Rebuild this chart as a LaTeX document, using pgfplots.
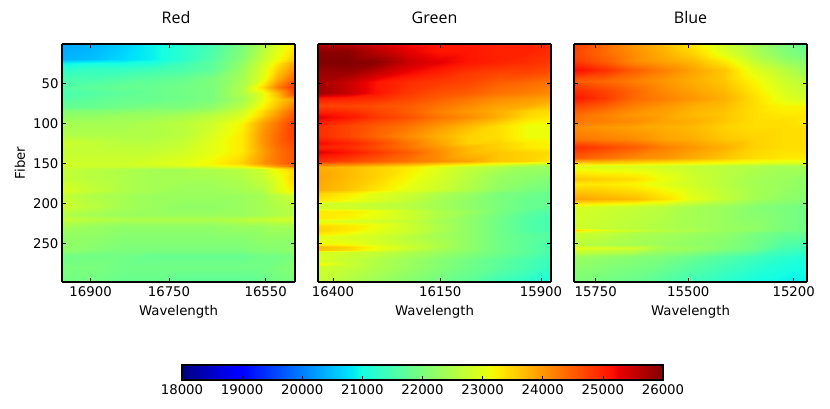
\documentclass[border=0pt]{standalone}
\usepackage{pgfplots}
\usepackage{fontspec}
\setmainfont{DejaVu Sans}
\newfontfamily\titlefont{Open Sans}
\pgfplotsset{compat=1.18}
% matplotlib jet
\pgfplotsset{colormap={mpljet}{
  rgb(0pt)=(0,0,.5); rgb(110pt)=(0,0,1); rgb(125pt)=(0,0,1); rgb(340pt)=(0,.86,1);
  rgb(350pt)=(0,.9,.968); rgb(375pt)=(.081,1,.887); rgb(640pt)=(.935,1,.032);
  rgb(650pt)=(.968,.963,0); rgb(660pt)=(1,.926,0); rgb(890pt)=(1,.074,0);
  rgb(910pt)=(.909,0,0); rgb(1000pt)=(.5,0,0)}}
\pgfplotsset{panel/.style={
  scale only axis, width=233pt, height=238pt,
  anchor=south west, view={0}{90},
  colormap name=mpljet, point meta min=18000, point meta max=26000,
  xmin=0, xmax=233, ymin=1, ymax=298, y dir=reverse,
  ytick={50,100,150,200,250}, ztick=\empty,
  tick align=inside, xtick pos=both, ytick pos=both,
  major tick length=4pt, tick style={black, line width=0.7pt},
  axis line style={black, line width=1.3pt},
  axis on top, grid=none,
  font=\fontsize{13.3}{15}\selectfont,
  tick label style={font=\fontsize{13.3}{15}\selectfont},
  /pgf/number format/assume math mode=true,
  /pgf/number format/1000 sep={},
  title style={at={(0.5,1)}, anchor=base, yshift=14.7pt, font=\titlefont\fontsize{16}{18}\selectfont},
  xlabel style={at={(0.5,0)}, anchor=base, yshift=-33pt},
  xticklabel style={yshift=-1pt},
  xlabel={Wavelength},
  every axis plot/.style={surf, shader=interp},
}}
\begin{document}
\begin{tikzpicture}
\path[use as bounding box] (0pt,0pt) rectangle (830pt,409pt);

\begin{axis}[panel, at={(62pt,127pt)}, title={Red}, ylabel={Fiber},
  title style={xshift=-2.5pt},
  ylabel style={at={(0,0.5)}, anchor=center, yshift=42pt},
  xtick={28.6,107,203.7}, xticklabels={16900,16750,16550}]
\addplot3[mesh/cols=10] coordinates {
(0,1,20300) (30,1,20400) (60,1,20600) (90,1,20900) (120,1,21200) (150,1,21500) (180,1,22000) (200,1,22500) (215,1,22900) (233,1,23300)

(0,20,20400) (30,20,20500) (60,20,20700) (90,20,20900) (120,20,21200) (150,20,21600) (180,20,22100) (200,20,22700) (215,20,23100) (233,20,23600)

(0,25,20900) (30,25,21000) (60,25,21000) (90,25,21100) (120,25,21400) (150,25,21700) (180,25,22200) (200,25,22800) (215,25,23300) (233,25,23900)

(0,32,21200) (30,32,21300) (60,32,21300) (90,32,21400) (120,32,21500) (150,32,21700) (180,32,22300) (200,32,22900) (215,32,23500) (233,32,24100)

(0,45,21500) (30,45,21500) (60,45,21600) (90,45,21700) (120,45,21800) (150,45,22000) (180,45,22400) (200,45,23000) (215,45,23800) (233,45,24500)

(0,55,21600) (30,55,21700) (60,55,21800) (90,55,21800) (120,55,21900) (150,55,22000) (180,55,22500) (200,55,23400) (215,55,24200) (233,55,24900)

(0,62,21500) (30,62,21600) (60,62,21700) (90,62,21800) (120,62,21900) (150,62,22000) (180,62,22500) (200,62,23000) (215,62,23700) (233,62,24700)

(0,70,21600) (30,70,21700) (60,70,21800) (90,70,21800) (120,70,21900) (150,70,22000) (180,70,22400) (200,70,23000) (215,70,23500) (233,70,24000)

(0,80,21800) (30,80,21800) (60,80,21900) (90,80,22000) (120,80,22000) (150,80,22200) (180,80,22600) (200,80,23200) (215,80,23700) (233,80,24300)

(0,84,22100) (30,84,22100) (60,84,22100) (90,84,22200) (120,84,22200) (150,84,22400) (180,84,22800) (200,84,23400) (215,84,23900) (233,84,24500)

(0,90,22200) (30,90,22200) (60,90,22300) (90,90,22300) (120,90,22400) (150,90,22600) (180,90,22900) (200,90,23500) (215,90,24000) (233,90,24600)

(0,100,22400) (30,100,22400) (60,100,22400) (90,100,22500) (120,100,22600) (150,100,22800) (180,100,23200) (200,100,23900) (215,100,24300) (233,100,24800)

(0,115,22500) (30,115,22500) (60,115,22500) (90,115,22500) (120,115,22600) (150,115,22900) (180,115,23300) (200,115,24000) (215,115,24400) (233,115,24800)

(0,125,22800) (30,125,22700) (60,125,22600) (90,125,22600) (120,125,22700) (150,125,23000) (180,125,23300) (200,125,24000) (215,125,24400) (233,125,24700)

(0,135,22700) (30,135,22700) (60,135,22700) (90,135,22700) (120,135,22800) (150,135,23000) (180,135,23300) (200,135,23900) (215,135,24300) (233,135,24600)

(0,150,22800) (30,150,22800) (60,150,22800) (90,150,22900) (120,150,23000) (150,150,23200) (180,150,23500) (200,150,24000) (215,150,24300) (233,150,24600)

(0,153,22800) (30,153,22800) (60,153,22800) (90,153,22800) (120,153,22900) (150,153,23000) (180,153,23200) (200,153,23600) (215,153,24000) (233,153,24300)

(0,157,22700) (30,157,22600) (60,157,22500) (90,157,22400) (120,157,22400) (150,157,22500) (180,157,22600) (200,157,22800) (215,157,23200) (233,157,23500)

(0,170,22700) (30,170,22600) (60,170,22500) (90,170,22400) (120,170,22400) (150,170,22400) (180,170,22500) (200,170,22700) (215,170,23000) (233,170,23500)

(0,185,22900) (30,185,22700) (60,185,22500) (90,185,22400) (120,185,22300) (150,185,22300) (180,185,22400) (200,185,22500) (215,185,22900) (233,185,23300)

(0,190,22700) (30,190,22500) (60,190,22400) (90,190,22300) (120,190,22300) (150,190,22300) (180,190,22300) (200,190,22400) (215,190,22600) (233,190,22800)

(0,205,22800) (30,205,22600) (60,205,22400) (90,205,22300) (120,205,22200) (150,205,22200) (180,205,22300) (200,205,22400) (215,205,22500) (233,205,22600)

(0,215,22500) (30,215,22400) (60,215,22300) (90,215,22300) (120,215,22300) (150,215,22300) (180,215,22300) (200,215,22400) (215,215,22500) (233,215,22600)

(0,220,22700) (30,220,22600) (60,220,22500) (90,220,22500) (120,220,22500) (150,220,22500) (180,220,22600) (200,220,22700) (215,220,22800) (233,220,22800)

(0,228,22400) (30,228,22300) (60,228,22200) (90,228,22200) (120,228,22200) (150,228,22200) (180,228,22300) (200,228,22300) (215,228,22400) (233,228,22400)

(0,243,22200) (30,243,22200) (60,243,22100) (90,243,22100) (120,243,22100) (150,243,22100) (180,243,22100) (200,243,22200) (215,243,22200) (233,243,22200)

(0,258,22200) (30,258,22100) (60,258,22000) (90,258,22000) (120,258,22000) (150,258,22000) (180,258,22000) (200,258,22100) (215,258,22100) (233,258,22200)

(0,265,21900) (30,265,21900) (60,265,21900) (90,265,21800) (120,265,21800) (150,265,21800) (180,265,21800) (200,265,21900) (215,265,21900) (233,265,22000)

(0,280,22000) (30,280,22000) (60,280,21900) (90,280,21900) (120,280,21900) (150,280,21900) (180,280,21900) (200,280,21900) (215,280,22000) (233,280,22100)

(0,298,21900) (30,298,21900) (60,298,21800) (90,298,21800) (120,298,21700) (150,298,21700) (180,298,21700) (200,298,21800) (215,298,21900) (233,298,22000)
};
\end{axis}

\begin{axis}[panel, at={(318pt,127pt)}, title={Green}, yticklabels={},
  xtick={15,122.3,223}, xticklabels={16400,16150,15900},
  colorbar horizontal,
  colorbar style={at={(0.4485,-0.3487)}, anchor=north, width=481pt, height=15pt,
    scale only axis, xtick={18000,19000,...,26000}, xtick pos=bottom,
    scaled x ticks=false, axis on top,
    tick align=inside, major tick length=4pt, tick style={black, line width=0.7pt},
    axis line style={black, line width=1.3pt},
    /pgf/number format/fixed, /pgf/number format/precision=0,
    /pgf/number format/assume math mode=true,
    /pgf/number format/1000 sep={},
    xticklabel style={font=\fontsize{13.3}{15}\selectfont, yshift=-1pt}}]
\addplot3[mesh/cols=9] coordinates {
(0,1,25600) (30,1,25600) (60,1,25400) (90,1,25200) (120,1,25100) (150,1,25100) (180,1,25000) (210,1,25000) (233,1,24900)

(0,10,25900) (30,10,25900) (60,10,25600) (90,10,25300) (120,10,25100) (150,10,25100) (180,10,25000) (210,10,25000) (233,10,24900)

(0,24,26000) (30,24,26000) (60,24,25900) (90,24,25500) (120,24,25300) (150,24,25100) (180,24,25000) (210,24,24900) (233,24,24800)

(0,37,25800) (30,37,25800) (60,37,25500) (90,37,25200) (120,37,25000) (150,37,24800) (180,37,24700) (210,37,24700) (233,37,24600)

(0,49,25700) (30,49,25500) (60,49,25100) (90,49,24900) (120,49,24800) (150,49,24700) (180,49,24500) (210,49,24400) (233,49,24300)

(0,62,25800) (30,62,25500) (60,62,25100) (90,62,24800) (120,62,24600) (150,62,24500) (180,62,24300) (210,62,24200) (233,62,24100)

(0,68,25100) (30,68,25000) (60,68,24900) (90,68,24700) (120,68,24500) (150,68,24300) (180,68,24100) (210,68,24000) (233,68,23900)

(0,78,24700) (30,78,24700) (60,78,24600) (90,78,24500) (120,78,24300) (150,78,24100) (180,78,23900) (210,78,23800) (233,78,23600)

(0,85,25000) (30,85,24900) (60,85,24700) (90,85,24500) (120,85,24200) (150,85,24000) (180,85,23800) (210,85,23500) (233,85,23400)

(0,92,25300) (30,92,25100) (60,92,24800) (90,92,24600) (120,92,24300) (150,92,24100) (180,92,23800) (210,92,23400) (233,92,23300)

(0,103,24900) (30,103,24700) (60,103,24500) (90,103,24300) (120,103,24000) (150,103,23700) (180,103,23400) (210,103,23100) (233,103,23100)

(0,116,24900) (30,116,24700) (60,116,24400) (90,116,24100) (120,116,23800) (150,116,23500) (180,116,23400) (210,116,23100) (233,116,23100)

(0,124,25200) (30,124,25000) (60,124,24700) (90,124,24300) (120,124,23900) (150,124,23500) (180,124,23500) (210,124,23300) (233,124,23200)

(0,130,25000) (30,130,24900) (60,130,24600) (90,130,24300) (120,130,24000) (150,130,23700) (180,130,23500) (210,130,23300) (233,130,23200)

(0,136,25300) (30,136,25100) (60,136,24800) (90,136,24500) (120,136,24100) (150,136,23700) (180,136,23600) (210,136,23500) (233,136,23400)

(0,147,24900) (30,147,24700) (60,147,24500) (90,147,24300) (120,147,24100) (150,147,23900) (180,147,23600) (210,147,23500) (233,147,23300)

(0,151,24300) (30,151,24200) (60,151,24000) (90,151,23800) (120,151,23500) (150,151,23300) (180,151,23000) (210,151,22800) (233,151,22700)

(0,154,23800) (30,154,23700) (60,154,23500) (90,154,23300) (120,154,23000) (150,154,22700) (180,154,22500) (210,154,22300) (233,154,22300)

(0,166,23900) (30,166,23700) (60,166,23500) (90,166,23200) (120,166,22900) (150,166,22600) (180,166,22300) (210,166,22200) (233,166,22100)

(0,183,23800) (30,183,23600) (60,183,23300) (90,183,23000) (120,183,22800) (150,183,22500) (180,183,22200) (210,183,22000) (233,183,21900)

(0,187,23500) (30,187,23300) (60,187,23000) (90,187,22800) (120,187,22500) (150,187,22300) (180,187,22000) (210,187,21900) (233,187,21800)

(0,197,23300) (30,197,23100) (60,197,22900) (90,197,22700) (120,197,22400) (150,197,22200) (180,197,22000) (210,197,21800) (233,197,21800)

(0,199,22800) (30,199,22800) (60,199,22700) (90,199,22600) (120,199,22400) (150,199,22200) (180,199,22000) (210,199,21800) (233,199,21800)

(0,206,22900) (30,206,22800) (60,206,22700) (90,206,22600) (120,206,22400) (150,206,22200) (180,206,22000) (210,206,21800) (233,206,21700)

(0,210,23300) (30,210,23300) (60,210,23100) (90,210,22800) (120,210,22500) (150,210,22300) (180,210,22000) (210,210,21700) (233,210,21600)

(0,218,23300) (30,218,23200) (60,218,23000) (90,218,22800) (120,218,22500) (150,218,22200) (180,218,21900) (210,218,21600) (233,218,21500)

(0,222,23000) (30,222,22900) (60,222,22800) (90,222,22700) (120,222,22400) (150,222,22200) (180,222,21900) (210,222,21600) (233,222,21500)

(0,227,23400) (30,227,23300) (60,227,23100) (90,227,22800) (120,227,22500) (150,227,22200) (180,227,21900) (210,227,21600) (233,227,21500)

(0,233,23500) (30,233,23300) (60,233,23000) (90,233,22800) (120,233,22500) (150,233,22200) (180,233,21900) (210,233,21600) (233,233,21500)

(0,238,23300) (30,238,23100) (60,238,22900) (90,238,22700) (120,238,22400) (150,238,22200) (180,238,21900) (210,238,21700) (233,238,21600)

(0,242,23000) (30,242,22900) (60,242,22800) (90,242,22600) (120,242,22400) (150,242,22200) (180,242,21900) (210,242,21700) (233,242,21600)

(0,250,23200) (30,250,23100) (60,250,22900) (90,250,22700) (120,250,22500) (150,250,22200) (180,250,21900) (210,250,21700) (233,250,21500)

(0,254,23700) (30,254,23500) (60,254,23100) (90,254,22800) (120,254,22500) (150,254,22200) (180,254,21900) (210,254,21700) (233,254,21500)

(0,258,23600) (30,258,23400) (60,258,23000) (90,258,22700) (120,258,22400) (150,258,22200) (180,258,21900) (210,258,21700) (233,258,21500)

(0,261,22900) (30,261,22800) (60,261,22700) (90,261,22500) (120,261,22300) (150,261,22100) (180,261,21900) (210,261,21700) (233,261,21500)

(0,272,22900) (30,272,22700) (60,272,22500) (90,272,22300) (120,272,22100) (150,272,21900) (180,272,21700) (210,272,21500) (233,272,21300)

(0,275,23200) (30,275,22800) (60,275,22500) (90,275,22300) (120,275,22100) (150,275,21900) (180,275,21700) (210,275,21500) (233,275,21300)

(0,279,22800) (30,279,22700) (60,279,22500) (90,279,22300) (120,279,22100) (150,279,21900) (180,279,21700) (210,279,21500) (233,279,21300)

(0,298,22700) (30,298,22500) (60,298,22300) (90,298,22100) (120,298,21900) (150,298,21700) (180,298,21400) (210,298,21200) (233,298,21000)
};
\end{axis}

\begin{axis}[panel, at={(574pt,127pt)}, title={Blue}, yticklabels={},
  xtick={21.7,114.3,219.7}, xticklabels={15750,15500,15200}]
\addplot3[mesh/cols=9] coordinates {
(0,1,24800) (30,1,24400) (60,1,24000) (90,1,23700) (120,1,23300) (150,1,22800) (180,1,22400) (210,1,22000) (233,1,21800)

(0,14,24700) (30,14,24400) (60,14,24100) (90,14,23800) (120,14,23500) (150,14,23000) (180,14,22500) (210,14,22100) (233,14,21900)

(0,22,24800) (30,22,24500) (60,22,24100) (90,22,23900) (120,22,23700) (150,22,23300) (180,22,22700) (210,22,22300) (233,22,22100)

(0,34,25200) (30,34,24900) (60,34,24500) (90,34,24200) (120,34,23900) (150,34,23600) (180,34,23000) (210,34,22600) (233,34,22300)

(0,47,24500) (30,47,24400) (60,47,24200) (90,47,24000) (120,47,23800) (150,47,23600) (180,47,23200) (210,47,22800) (233,47,22600)

(0,59,24900) (30,59,24700) (60,59,24400) (90,59,24100) (120,59,23900) (150,59,23700) (180,59,23300) (210,59,22900) (233,59,22700)

(0,68,25100) (30,68,24800) (60,68,24400) (90,68,24200) (120,68,24000) (150,68,23800) (180,68,23400) (210,68,23000) (233,68,22800)

(0,78,24700) (30,78,24500) (60,78,24200) (90,78,24000) (120,78,23800) (150,78,23700) (180,78,23400) (210,78,23200) (233,78,23200)

(0,88,24400) (30,88,24200) (60,88,24000) (90,88,23900) (120,88,23700) (150,88,23600) (180,88,23400) (210,88,23300) (233,88,23300)

(0,97,24300) (30,97,24200) (60,97,24100) (90,97,23900) (120,97,23800) (150,97,23600) (180,97,23400) (210,97,23400) (233,97,23300)

(0,105,24100) (30,105,24000) (60,105,23900) (90,105,23800) (120,105,23700) (150,105,23500) (180,105,23400) (210,105,23400) (233,105,23400)

(0,120,24300) (30,120,24200) (60,120,24100) (90,120,23900) (120,120,23800) (150,120,23600) (180,120,23500) (210,120,23400) (233,120,23400)

(0,130,24900) (30,130,24700) (60,130,24500) (90,130,24200) (120,130,24000) (150,130,23800) (180,130,23500) (210,130,23400) (233,130,23400)

(0,143,24500) (30,143,24300) (60,143,24100) (90,143,24000) (120,143,23800) (150,143,23600) (180,143,23400) (210,143,23300) (233,143,23300)

(0,149,23500) (30,149,23500) (60,149,23400) (90,149,23300) (120,149,23200) (150,149,23100) (180,149,23000) (210,149,22900) (233,149,22900)

(0,153,23000) (30,153,22900) (60,153,22900) (90,153,22800) (120,153,22700) (150,153,22600) (180,153,22500) (210,153,22400) (233,153,22400)

(0,170,23600) (30,170,23500) (60,170,23400) (90,170,23100) (120,170,22800) (150,170,22600) (180,170,22400) (210,170,22300) (233,170,22200)

(0,176,23300) (30,176,23300) (60,176,23200) (90,176,23000) (120,176,22800) (150,176,22600) (180,176,22400) (210,176,22300) (233,176,22200)

(0,195,23900) (30,195,23800) (60,195,23700) (90,195,23400) (120,195,23000) (150,195,22700) (180,195,22400) (210,195,22200) (233,195,22100)

(0,205,22900) (30,205,22800) (60,205,22700) (90,205,22600) (120,205,22400) (150,205,22300) (180,205,22100) (210,205,22000) (233,205,21900)

(0,230,22800) (30,230,22700) (60,230,22600) (90,230,22500) (120,230,22400) (150,230,22300) (180,230,22200) (210,230,22000) (233,230,21900)

(0,233,23500) (30,233,23000) (60,233,22800) (90,233,22600) (120,233,22500) (150,233,22300) (180,233,22200) (210,233,22000) (233,233,21900)

(0,237,22800) (30,237,22700) (60,237,22500) (90,237,22400) (120,237,22300) (150,237,22200) (180,237,22000) (210,237,21800) (233,237,21800)

(0,250,22600) (30,250,22500) (60,250,22400) (90,250,22300) (120,250,22200) (150,250,22100) (180,250,21900) (210,250,21600) (233,250,21500)

(0,256,23000) (30,256,22900) (60,256,22800) (90,256,22400) (120,256,22300) (150,256,22100) (180,256,21900) (210,256,21500) (233,256,21400)

(0,267,22300) (30,267,22200) (60,267,22100) (90,267,22000) (120,267,21800) (150,267,21600) (180,267,21400) (210,267,21200) (233,267,21100)

(0,298,22000) (30,298,21900) (60,298,21800) (90,298,21600) (120,298,21400) (150,298,21200) (180,298,21000) (210,298,20900) (233,298,20900)
};
\end{axis}
\end{tikzpicture}
\end{document}
